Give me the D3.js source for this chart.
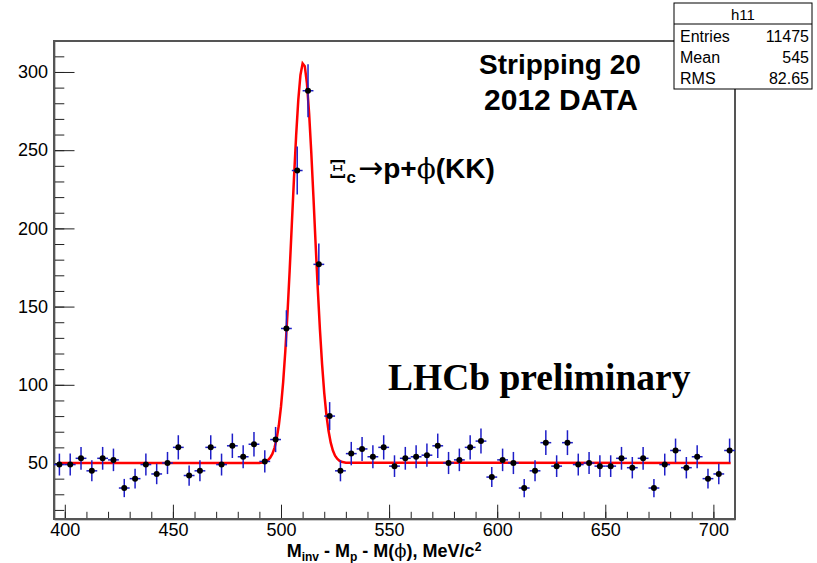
<!DOCTYPE html>
<html>
<head>
<meta charset="utf-8">
<script src="https://cdn.jsdelivr.net/npm/d3@7/dist/d3.min.js"></script>
<style>
body { margin: 0; background: #fff; }
text { font-family: "Liberation Sans", Arial, sans-serif; }
</style>
</head>
<body>
<div id="chart"></div>
<script>
// histogram h11: bin centres (5 MeV bins, 395..710) and counts
var binCenters = [397.5, 402.5, 407.5, 412.5, 417.5, 422.5, 427.5, 432.5, 437.5, 442.5,
    447.5, 452.5, 457.5, 462.5, 467.5, 472.5, 477.5, 482.5, 487.5, 492.5,
    497.5, 502.5, 507.5, 512.5, 517.5, 522.5, 527.5, 532.5, 537.5, 542.5,
    547.5, 552.5, 557.5, 562.5, 567.5, 572.5, 577.5, 582.5, 587.5, 592.5,
    597.5, 602.5, 607.5, 612.5, 617.5, 622.5, 627.5, 632.5, 637.5, 642.5,
    647.5, 652.5, 657.5, 662.5, 667.5, 672.5, 677.5, 682.5, 687.5, 692.5,
    697.5, 702.5, 707.5];
var counts = [49, 49, 53, 45, 53, 52, 34, 40, 49, 43,
    50, 60, 42, 45, 60, 49, 61, 54, 62, 51,
    65, 136, 237, 288, 177, 80, 45, 56, 59, 54,
    60, 48, 53, 54, 55, 61, 50, 52, 60, 64,
    41, 52, 50, 34, 45, 63, 48, 63, 49, 50,
    48, 48, 53, 47, 53, 34, 49, 58, 47, 54,
    40, 43, 58];
var binHalfWidth = 2.5;

// fitted curve (signal peak on flat background)
var fitX = [397, 490, 492, 493, 494, 495, 496, 497, 498, 499, 500, 501, 502, 503, 504,
    505, 506, 507, 508, 509, 510, 511, 512, 513, 514, 515, 516, 517, 518, 519,
    520, 521, 522, 523, 524, 525, 526, 527, 528, 530, 708];
var fitY = [50, 50, 50.5, 51, 51.9, 53.4, 55.8, 59.7, 65.6, 74.1, 86, 101.7, 121.6, 145.6, 172.9,
    202.3, 231.8, 259.3, 282.2, 298.1, 305.5, 303.7, 292.7, 273.7, 248.7, 220.2, 190.3, 161.6, 135.5, 113.2,
    94.9, 80.8, 70.4, 63, 58, 54.7, 52.7, 51.5, 50.8, 50.2, 50];

var xDomain = [395, 710];
var yDomain = [14.2, 319.8];
var xMajor = [400, 450, 500, 550, 600, 650, 700];
var xMinor = [400, 410, 420, 430, 440, 450, 460, 470, 480, 490, 500, 510, 520, 530, 540, 550,
    560, 570, 580, 590, 600, 610, 620, 630, 640, 650, 660, 670, 680, 690, 700, 710];
var yMajor = [50, 100, 150, 200, 250, 300];
var yMinor = [20, 30, 40, 50, 60, 70, 80, 90, 100, 110, 120, 130, 140, 150, 160, 170, 180, 190,
    200, 210, 220, 230, 240, 250, 260, 270, 280, 290, 300, 310];

var statsTitle = "h11";
var statsRows = [["Entries", "11475"], ["Mean", "545"], ["RMS", "82.65"]];

const W = 817, H = 563;
const margin = { top: 41, right: 82, bottom: 44, left: 54 },
    width = W - margin.left - margin.right,
    height = H - margin.top - margin.bottom;

const root = d3.select("#chart").append("svg")
    .attr("width", W)
    .attr("height", H);

const svg = root.append("g")
    .attr("transform", `translate(${margin.left},${margin.top})`);

const x = d3.scaleLinear().domain(xDomain).range([0, width]);
const y = d3.scaleLinear().domain(yDomain).range([height, 0]);

// minor ticks
svg.append("g")
    .attr("transform", `translate(0,${height})`)
    .call(d3.axisBottom(x).tickValues(xMinor).tickSizeInner(-7.2).tickSizeOuter(0).tickFormat(""))
    .call(g => g.select(".domain").remove());
svg.append("g")
    .call(d3.axisLeft(y).tickValues(yMinor).tickSizeInner(-10.3).tickSizeOuter(0).tickFormat(""))
    .call(g => g.select(".domain").remove());

// major ticks + labels
const xAxis = svg.append("g")
    .attr("transform", `translate(0,${height})`)
    .call(d3.axisBottom(x).tickValues(xMajor).tickSizeInner(-14.3).tickSizeOuter(0).tickPadding(4));
const yAxis = svg.append("g")
    .call(d3.axisLeft(y).tickValues(yMajor).tickSizeInner(-20.5).tickSizeOuter(0).tickPadding(6));

[xAxis, yAxis].forEach(g => {
    g.selectAll("text")
        .style("font-family", "'Liberation Sans', Arial, sans-serif")
        .style("font-size", "18px")
        .attr("fill", "#000");
    g.select(".domain").attr("stroke", "#222").attr("stroke-width", 1.5);
});
svg.selectAll(".tick line").attr("stroke", "#222");

// frame
svg.append("rect")
    .attr("x", 0).attr("y", 0)
    .attr("width", width).attr("height", height)
    .attr("fill", "none")
    .attr("stroke", "#555")
    .attr("stroke-width", 2);

// fit curve
const line = d3.line()
    .x(d => x(d[0]))
    .y(d => y(d[1]));
svg.append("path")
    .datum(fitX.map((v, i) => [v, fitY[i]]))
    .attr("fill", "none")
    .attr("stroke", "#ff0000")
    .attr("stroke-width", 2.5)
    .attr("d", line);

// data points with errors
const pts = binCenters.map((c, i) => ({ x: c, n: counts[i], e: Math.sqrt(counts[i]) }));

svg.selectAll(".ex")
    .data(pts)
    .enter().append("line")
    .attr("x1", d => x(d.x - binHalfWidth))
    .attr("x2", d => x(d.x + binHalfWidth))
    .attr("y1", d => y(d.n))
    .attr("y2", d => y(d.n))
    .attr("stroke", "#1e1ec8")
    .attr("stroke-width", 1.5);

svg.selectAll(".ey")
    .data(pts)
    .enter().append("line")
    .attr("x1", d => x(d.x))
    .attr("x2", d => x(d.x))
    .attr("y1", d => y(d.n - d.e))
    .attr("y2", d => y(d.n + d.e))
    .attr("stroke", "#1e1ec8")
    .attr("stroke-width", 1.5);

svg.selectAll(".pt")
    .data(pts)
    .enter().append("circle")
    .attr("cx", d => x(d.x))
    .attr("cy", d => y(d.n))
    .attr("r", 3)
    .attr("fill", "#000");

// labels on the pad
root.append("text")
    .attr("x", 560).attr("y", 74)
    .attr("text-anchor", "middle")
    .style("font-size", "28px").style("font-weight", "bold")
    .text("Stripping 20");
root.append("text")
    .attr("x", 561).attr("y", 110)
    .attr("text-anchor", "middle")
    .style("font-size", "30px").style("font-weight", "bold")
    .text("2012 DATA");

const decay = root.append("text")
    .attr("x", 329).attr("y", 178)
    .style("font-size", "28px");
decay.append("tspan").style("font-family", "'DejaVu Serif', serif").style("font-size", "25px").text("Ξ");
decay.append("tspan").attr("dy", 5).style("font-size", "17px").style("font-weight", "bold").text("c");
decay.append("tspan").attr("dy", -5).attr("dx", 2).style("font-family", "'DejaVu Sans', sans-serif").style("font-size", "30px").text("→");
decay.append("tspan").style("font-weight", "bold").text("p+");
decay.append("tspan").style("font-family", "'DejaVu Serif', serif").text("ϕ");
decay.append("tspan").style("font-weight", "bold").text("(KK)");

root.append("text")
    .attr("x", 388).attr("y", 390)
    .style("font-family", "'Liberation Serif', 'Times New Roman', serif")
    .style("font-size", "37.5px").style("font-weight", "bold")
    .text("LHCb preliminary");

// x axis title
const xt = root.append("text")
    .attr("x", 384).attr("y", 557)
    .attr("text-anchor", "middle")
    .style("font-size", "18px").style("font-weight", "bold");
xt.append("tspan").text("M");
xt.append("tspan").attr("dy", 4).style("font-size", "12px").text("inv");
xt.append("tspan").attr("dy", -4).text(" - M");
xt.append("tspan").attr("dy", 4).style("font-size", "12px").text("p");
xt.append("tspan").attr("dy", -4).text(" - M(");
xt.append("tspan").style("font-family", "'DejaVu Serif', serif").style("font-weight", "normal").text("ϕ");
xt.append("tspan").text("), MeV/c");
xt.append("tspan").attr("dy", -6).style("font-size", "12px").text("2");

// stats box
const box = root.append("g");
box.append("rect")
    .attr("x", 674).attr("y", 3)
    .attr("width", 138).attr("height", 86)
    .attr("fill", "#fff")
    .attr("stroke", "#000")
    .attr("stroke-width", 1);
box.append("line")
    .attr("x1", 674).attr("x2", 812)
    .attr("y1", 24).attr("y2", 24)
    .attr("stroke", "#000");
box.append("text")
    .attr("x", 743).attr("y", 20)
    .attr("text-anchor", "middle")
    .style("font-size", "15px")
    .text(statsTitle);
statsRows.forEach((r, i) => {
    box.append("text")
        .attr("x", 680).attr("y", 42 + i * 21)
        .style("font-size", "16px")
        .text(r[0]);
    box.append("text")
        .attr("x", 809).attr("y", 42 + i * 21)
        .attr("text-anchor", "end")
        .style("font-size", "16px")
        .text(r[1]);
});
</script>
</body>
</html>
